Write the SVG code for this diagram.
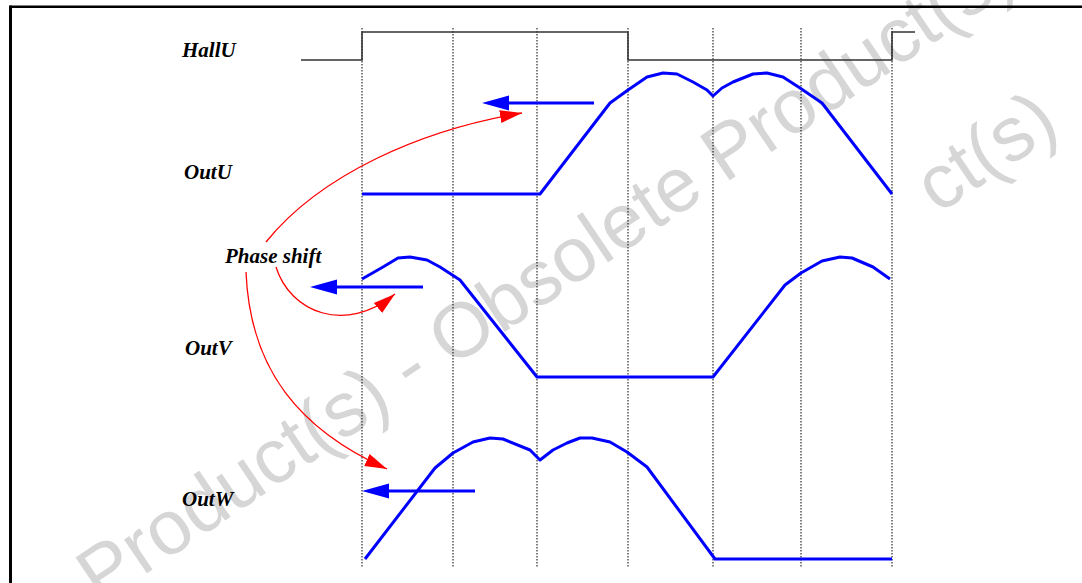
<svg xmlns="http://www.w3.org/2000/svg" width="1082" height="583" viewBox="0 0 1082 583">
  <style>
    .lbl { font-family: "Liberation Serif", "Times New Roman", serif; font-weight: bold; font-style: italic; font-size: 21px; fill: #000; }
    .wm { font-family: "Liberation Sans", Arial, sans-serif; font-size: 77px; fill: #d6d6d6; }
    .grid { stroke: #000; stroke-width: 1; stroke-dasharray: 1.5 1.5; fill: none; }
    .wave { stroke: #0000ff; stroke-width: 3; fill: none; stroke-linejoin: round; }
    .hall { stroke: #333; stroke-width: 1.6; fill: none; }
    .shift { stroke: #0000ff; stroke-width: 3; fill: none; }
    .red { stroke: #ff0000; stroke-width: 1.3; fill: none; }
  </style>
  <defs>
    <marker id="blueHead" markerUnits="userSpaceOnUse" markerWidth="30" markerHeight="20" viewBox="0 -10 30 20" refX="0" refY="0" orient="auto">
      <path d="M0,-7.5 L27,0 L0,7.5 Z" fill="#0000ff"/>
    </marker>
    <marker id="redHead" markerUnits="userSpaceOnUse" markerWidth="26" markerHeight="16" viewBox="0 -8 26 16" refX="22" refY="0" orient="auto">
      <path d="M0,-6.5 L22,0 L0,6.5 Z" fill="#ff0000"/>
    </marker>
  </defs>
  <rect x="0" y="0" width="1082" height="583" fill="#fff"/>

  <g id="watermark">
    <text class="wm" x="100" y="605" transform="rotate(-34 100 605)">Product(s) - Obsolete Product(s)</text>
    <text class="wm" x="1000" y="173" text-anchor="middle" transform="rotate(-34 1000 173)">ct(s)</text>
  </g>

  <g id="frame">
    <line x1="10" y1="6.8" x2="1082" y2="6.8" stroke="#000" stroke-width="2.4"/>
    <line x1="10.5" y1="5.6" x2="10.5" y2="583" stroke="#000" stroke-width="3"/>
  </g>

  <g id="grid">
    <line class="grid" x1="362" y1="28" x2="362" y2="568"/>
    <line class="grid" x1="453" y1="28" x2="453" y2="568"/>
    <line class="grid" x1="537" y1="28" x2="537" y2="568"/>
    <line class="grid" x1="628" y1="28" x2="628" y2="568"/>
    <line class="grid" x1="713" y1="28" x2="713" y2="568"/>
    <line class="grid" x1="801" y1="28" x2="801" y2="568"/>
    <line class="grid" x1="892" y1="28" x2="892" y2="568"/>
  </g>

  <g id="hallU">
    <text class="lbl" x="182" y="57">HallU</text>
    <path class="hall" d="M301,60 H362 V32 H628 V60 H892 V32 H915"/>
  </g>

  <g id="outU">
    <text class="lbl" x="184" y="179">OutU</text>
    <polyline class="wave" points="362,194 540,194 610,103 628,90 647,77 663,73 677,74 693,82 707,90 713,96 722,88 733,82 753,74 767,73 783,77 800,88 822,103 892,194"/>
  </g>

  <g id="outV">
    <text class="lbl" x="185" y="355">OutV</text>
    <polyline class="wave" points="362,279 383,267 398,258 410,257 427,260 440,267 460,280 537,377 713,377 785,285 801,273 822,261 840,257 852,258 873,267 890,279"/>
  </g>

  <g id="outW">
    <text class="lbl" x="182" y="506">OutW</text>
    <polyline class="wave" points="365,559 435,468 453,453 473,442 490,438 503,439 530,450 540,460 553,450 567,443 580,438 592,438 610,442 627,452 647,467 715,559 892,559"/>
  </g>

  <g id="phaseShift">
    <text class="lbl" x="225" y="263">Phase shift</text>
  </g>

  <g id="connectors">
    <line class="shift" x1="594" y1="103" x2="509" y2="103" marker-end="url(#blueHead)"/>
    <line class="shift" x1="423" y1="287" x2="337" y2="287" marker-end="url(#blueHead)"/>
    <line class="shift" x1="475" y1="491" x2="389" y2="491" marker-end="url(#blueHead)"/>
    <path class="red" d="M266,242 C320,175 420,130 522,113" marker-end="url(#redHead)"/>
    <path class="red" d="M276,267 C290,312 345,335 395,294" marker-end="url(#redHead)"/>
    <path class="red" d="M246,272 C250,370 300,430 387,469" marker-end="url(#redHead)"/>
  </g>
</svg>
